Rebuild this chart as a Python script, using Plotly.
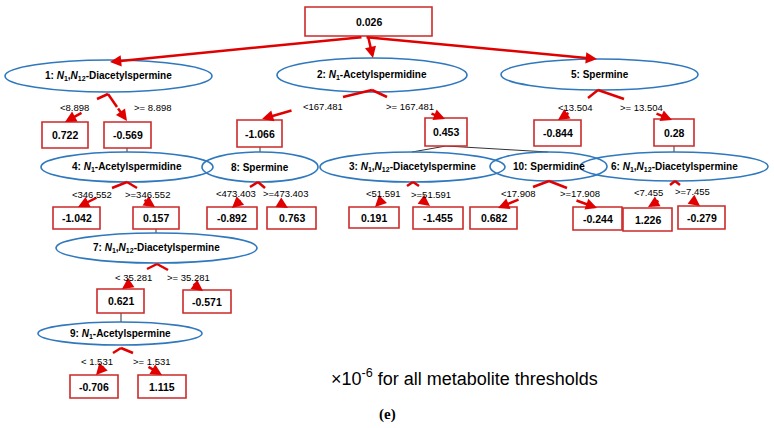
import plotly.graph_objects as go

# ---------------- data ----------------
root_value = 0.026
split_labels = [
    "1: <i>N</i><sub>1</sub>,<i>N</i><sub>12</sub>-Diacetylspermine",
    "2: <i>N</i><sub>1</sub>-Acetylspermidine",
    "5: Spermine",
    "4: <i>N</i><sub>1</sub>-Acetylspermidine",
    "8: Spermine",
    "3: <i>N</i><sub>1</sub>,<i>N</i><sub>12</sub>-Diacetylspermine",
    "10: Spermidine",
    "6: <i>N</i><sub>1</sub>,<i>N</i><sub>12</sub>-Diacetylspermine",
    "7: <i>N</i><sub>1</sub>,<i>N</i><sub>12</sub>-Diacetylspermine",
    "9: <i>N</i><sub>1</sub>-Acetylspermine",
]
left_labels = ["<8.898", "<167.481", "<13.504", "<346.552", "<473.403",
               "<51.591", "<17.908", "<7.455", "< 35.281", "< 1.531"]
right_labels = [">= 8.898", ">= 167.481", ">= 13.504", ">=346.552", ">=473.403",
                ">=51.591", ">=17.908", ">=7.455", ">= 35.281", ">= 1.531"]
leaf_values = [0.722, -0.569, -1.066, 0.453, -0.844, 0.28,
               -1.042, 0.157, -0.892, 0.763, 0.191, -1.455,
               0.682, -0.244, 1.226, -0.279, 0.621, -0.571,
               -0.706, 1.115]
note_text = "×10<sup>-6</sup> for all metabolite thresholds"
panel_label = "(e)"

# ---------------- layout geometry (pixels) ----------------
W, H = 774, 428
root_box = (305, 432, 7, 36)
root_arrows = [((363, 37), (110, 62)), ((368, 36), (373, 58)), ((365, 37), (597, 59))]

# ellipse box, apex, left(seg_end, tail, tip, label), right(seg_end, tail, tip, label)
split_geom = [
    ((5, 212, 60, 92), (108, 94), ((97, 99), (83, 112), (65, 122), (74, 107)), ((117, 107), (117, 107), (127, 121), (153, 107))),
    ((277, 467, 58, 92), (372, 90), ((343, 97), (293, 110), (262, 119), (323, 106)), ((387, 97), (430, 113), (445, 119), (410, 106))),
    ((501, 698, 59, 90), (598, 90), ((588, 98), (570, 112), (558, 120), (575, 107)), ((624, 99), (655, 113), (672, 120), (641, 107))),
    ((41, 213, 152, 182), (127, 182), ((112, 188), (98, 197), (78, 207), (92, 194)), ((137, 188), (143, 199), (155, 207), (147, 194))),
    ((202, 318, 152, 182), (258, 182), ((250, 187), (242, 199), (232, 208), (236, 193)), ((265, 188), (278, 202), (288, 208), (285, 193))),
    ((320, 505, 152, 182), (413, 182), ((407, 186), (383, 199), (375, 207), (383, 193)), ((419, 186), (422, 200), (430, 206), (431, 194))),
    ((490, 607, 152, 181), (549, 181), ((533, 187), (520, 199), (498, 208), (518, 193)), ((567, 188), (575, 200), (597, 208), (580, 193))),
    ((580, 768, 152, 181), (675, 181), ((670, 185), (660, 200), (648, 207), (648, 192)), ((680, 185), (692, 200), (700, 206), (692, 191))),
    ((56, 257, 233, 263), (157, 264), ((147, 269), (132, 282), (122, 289), (133, 277)), ((168, 270), (192, 283), (203, 291), (188, 277))),
    ((38, 202, 322, 345), (121, 348), ((113, 353), (105, 365), (96, 375), (97, 361)), ((133, 353), (147, 366), (162, 375), (152, 361))),
]
leaf_boxes = [
    (42, 88, 122, 148), (104, 151, 122, 148), (237, 282, 120, 147), (425, 467, 118, 146),
    (534, 581, 120, 146), (654, 694, 119, 146), (53, 100, 207, 229), (133, 179, 207, 229),
    (207, 257, 207, 229), (267, 316, 207, 229), (349, 399, 207, 228), (413, 463, 207, 229),
    (470, 517, 207, 229), (573, 622, 207, 230), (623, 672, 208, 231), (678, 725, 206, 229),
    (97, 144, 289, 313), (183, 231, 290, 313), (70, 118, 375, 398), (138, 186, 375, 398),
]
connectors = [((127, 148), (127, 152)), ((260, 147), (260, 152)), ((446, 146), (412, 152)),
              ((446, 146), (548, 152)), ((674, 146), (674, 152)), ((156, 229), (156, 233)),
              ((121, 313), (121, 322))]

BOX_RED = "#cc2a2a"
ARROW_RED = "#e00000"
BLUE = "#2f78bd"
FONT = "Liberation Sans, Arial, sans-serif"

fig = go.Figure()
fig.add_trace(go.Scatter(x=[0, W], y=[0, H], mode="markers", marker=dict(opacity=0), hoverinfo="skip", showlegend=False))

shapes = []
annotations = []

def box(b, text, size=10.5):
    x0, x1, y0, y1 = b
    shapes.append(dict(type="rect", x0=x0, x1=x1, y0=y0, y1=y1, xref="x", yref="y",
                       line=dict(color=BOX_RED, width=1.6), fillcolor="white", layer="above"))
    annotations.append(dict(x=(x0 + x1) / 2, y=(y0 + y1) / 2, xref="x", yref="y", text="<b>%s</b>" % text,
                            showarrow=False, font=dict(family=FONT, size=size, color="black")))

def arrow(tail, tip, width=2.5):
    annotations.append(dict(x=tip[0], y=tip[1], ax=tail[0], ay=tail[1], xref="x", yref="y",
                            axref="x", ayref="y", text="", showarrow=True, arrowhead=2,
                            arrowsize=0.9, arrowwidth=width, arrowcolor=ARROW_RED, standoff=0, startstandoff=0))

def seg(a, b, color=ARROW_RED, width=2.5):
    shapes.append(dict(type="line", x0=a[0], y0=a[1], x1=b[0], y1=b[1], xref="x", yref="y",
                       line=dict(color=color, width=width), layer="above"))

for a, b in connectors:
    seg(a, b, color="#333333", width=1)

box(root_box, str(root_value))
for tail, tip in root_arrows:
    arrow(tail, tip)

label_anns = []
for lab, ll, rl, g in zip(split_labels, left_labels, right_labels, split_geom):
    (ex0, ex1, ey0, ey1), apex, L, R = g
    shapes.append(dict(type="circle", x0=ex0, x1=ex1, y0=ey0, y1=ey1, xref="x", yref="y",
                       line=dict(color=BLUE, width=1.6), layer="above"))
    annotations.append(dict(x=(ex0 + ex1) / 2, y=(ey0 + ey1) / 2, xref="x", yref="y",
                            text="<b>%s</b>" % lab, showarrow=False,
                            font=dict(family=FONT, size=10, color="black")))
    for (se, tail, tip, lp), txt in ((L, ll), (R, rl)):
        seg(apex, se)
        arrow(tail, tip)
        label_anns.append(dict(x=lp[0], y=lp[1], xref="x", yref="y",
                               text=txt.replace("<", "&lt;").replace(">", "&gt;"),
                               showarrow=False, font=dict(family=FONT, size=9.5, color="black")))

annotations.extend(label_anns)

for v, b in zip(leaf_values, leaf_boxes):
    box(b, str(v))

annotations.append(dict(x=464, y=377, xref="x", yref="y", text=note_text, showarrow=False,
                        font=dict(family=FONT, size=18, color="black")))
annotations.append(dict(x=387, y=414, xref="x", yref="y", text="<b>%s</b>" % panel_label, showarrow=False,
                        font=dict(family="Liberation Serif, Times New Roman, serif", size=15, color="black")))

fig.update_layout(
    width=W, height=H, margin=dict(l=0, r=0, t=0, b=0),
    paper_bgcolor="white", plot_bgcolor="white",
    xaxis=dict(range=[0, W], visible=False, fixedrange=True),
    yaxis=dict(range=[H, 0], visible=False, fixedrange=True),
    shapes=shapes, annotations=annotations, showlegend=False,
)
fig.write_html("out.html", config={"displayModeBar": False},
               post_script="document.body.style.margin='0';document.body.style.padding='0';document.body.style.overflow='hidden';")
